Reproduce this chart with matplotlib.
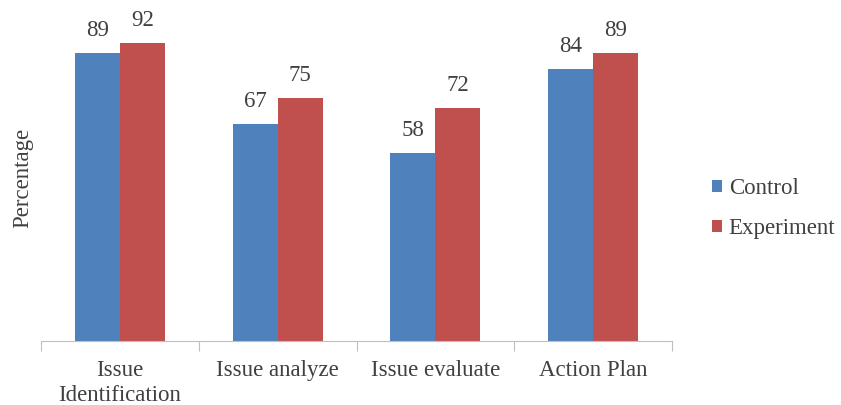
import numpy as np
import matplotlib.pyplot as plt

# Datos
categorias = ['Issue\nIdentification', 'Issue analyze', 'Issue evaluate', 'Action Plan']
control = [89, 67, 58, 84]
experimento = [92, 75, 72, 89]

plt.rcParams['font.family'] = ['Liberation Serif', 'DejaVu Serif']
fs = 16.5

fig = plt.figure(figsize=(8.41, 4.05), dpi=100)
ax = fig.add_axes([0.049, 0.158, 0.750, 0.807])

x = np.arange(len(categorias))
w = 0.285
b1 = ax.bar(x - w / 2, control, w, color='#4F81BD', label='Control')
b2 = ax.bar(x + w / 2, experimento, w, color='#C0504D', label='Experiment')

for bars in (b1, b2):
    for r in bars:
        ax.annotate(str(int(r.get_height())), (r.get_x() + r.get_width() / 2, r.get_height()),
                    xytext=(0, 9), textcoords='offset points', ha='center', va='bottom',
                    fontsize=fs, color='#404040')

ax.set_xlim(-0.5, len(categorias) - 0.5)
ax.set_ylim(0, 101)
ax.set_yticks([])
for s in ['top', 'right', 'left']:
    ax.spines[s].set_visible(False)
ax.spines['bottom'].set_color('#bfbfbf')

# marcas entre categorias
ax.set_xticks(np.arange(-0.5, len(categorias), 1.0))
ax.set_xticklabels([])
ax.set_xticks(x, minor=True)
ax.set_xticklabels(categorias, minor=True, fontsize=fs, color='#404040', linespacing=1.2)
ax.tick_params(axis='x', which='major', length=7, color='#bfbfbf')
ax.tick_params(axis='x', which='minor', length=0, pad=14)

ax.set_ylabel('Percentage', fontsize=fs, color='#404040', labelpad=6)

ax.legend(loc='center left', bbox_to_anchor=(1.03, 0.405), frameon=False, fontsize=fs,
          handlelength=0.45, handleheight=0.45, handletextpad=0.3, labelspacing=0.85,
          labelcolor='#404040')

fig.savefig('out.png', dpi=100)
